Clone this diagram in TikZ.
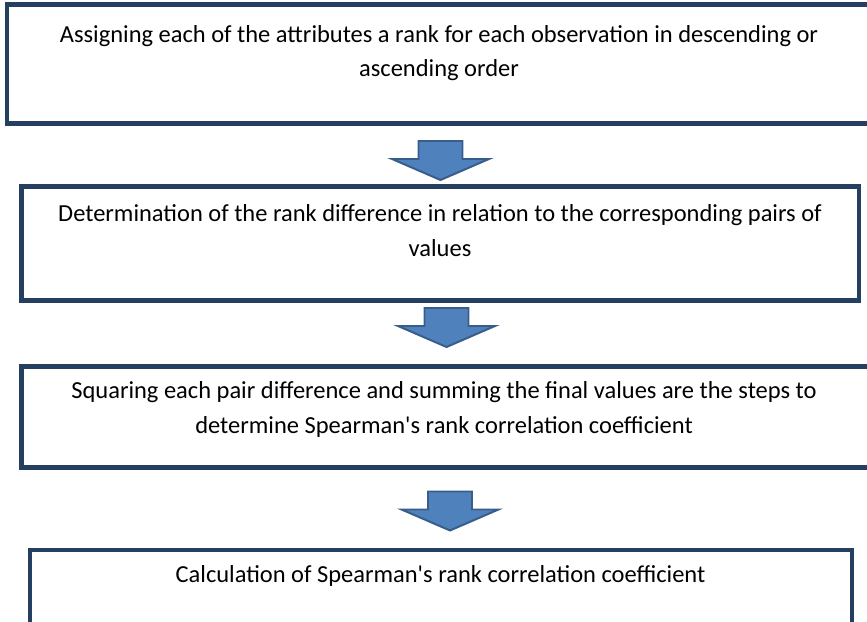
\documentclass[tikz,border=0pt]{standalone}
\usepackage{fontspec}
\setmainfont{Carlito}[Ligatures=TeXOff]
\definecolor{boxline}{HTML}{243F60}
\definecolor{arrowfill}{HTML}{4F81BD}
\definecolor{arrowline}{HTML}{385D8A}
\begin{document}
\begin{tikzpicture}
        [x=0.025cm,y=-0.025cm,every node/.style={font=\fontsize{17.4pt}{24.5pt}\selectfont},
        stepbox/.style={draw=boxline,line width=3.2pt,inner sep=0pt},
        steptext/.style={align=center,anchor=base,inner sep=0pt},
        downarrow/.pic={\draw[fill=arrowfill,draw=arrowline,line width=1.4pt]
            (-22,0) -- (22,0) -- (22,18) -- (48.5,18) -- (0,39) -- (-48.5,18) -- (-22,18) -- cycle;}]
        \useasboundingbox (0,0) rectangle (867,622);
        \clip (0,0) rectangle (867,622);
        %Boxes
        \node[stepbox,minimum width=21.6cm,minimum height=2.975cm]  (B1) at (439,64)      {};
        \node[stepbox,minimum width=20.94cm,minimum height=2.85cm]  (B2) at (440.25,243.5) {};
        \node[stepbox,minimum width=21.24cm,minimum height=2.525cm] (B3) at (446.25,417)  {};
        \node[stepbox,minimum width=20.55cm,minimum height=2.25cm]  (B4) at (441,595)     {};
        
        %Texts (base = last line)
        \node[steptext] (T1) at (439,76.5)  {Assigning each of the attributes a rank for each observation in descending or\\ascending order};
        \node[steptext] (T2) at (440,256.2) {Determination of the rank difference in relation to the corresponding pairs of\\values};
        \node[steptext] (T3) at (444,433)   {Squaring each pair difference and summing the final values are the steps to\\determine Spearman's rank correlation coefficient};
        \node[steptext] (T4) at (440.5,582.7) {Calculation of Spearman's rank correlation coefficient};
        
        %Arrows
        \pic at (440.5,141) {downarrow};
        \pic at (446.5,308) {downarrow};
        \pic at (450,491.5) {downarrow};
    \end{tikzpicture}
\end{document}
